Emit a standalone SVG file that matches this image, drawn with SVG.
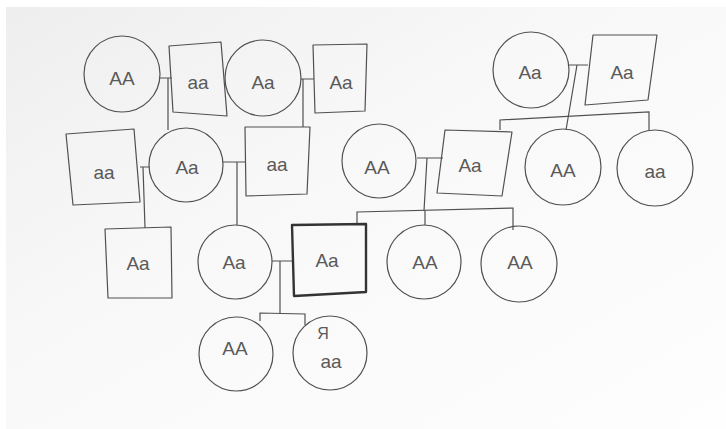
<svg xmlns="http://www.w3.org/2000/svg" width="726" height="429" viewBox="0 0 726 429">
<defs>
<linearGradient id="paper" x1="0" y1="0" x2="1" y2="1">
<stop offset="0" stop-color="#eeeeee"/>
<stop offset="0.4" stop-color="#f8f8f8"/>
<stop offset="1" stop-color="#fefefe"/>
</linearGradient>
<style>
.n{fill:none;stroke:#505050;stroke-width:1.2;stroke-linejoin:round}
.b{fill:none;stroke:#333;stroke-width:2.4;stroke-linejoin:round}
.c{fill:none;stroke:#505050;stroke-width:1.2}
text{font-family:"Liberation Sans","DejaVu Sans",sans-serif;font-size:19px;fill:#5a5a5a;text-anchor:middle}
</style>
</defs>
<rect x="0" y="0" width="726" height="429" fill="#ffffff"/>
<rect x="6" y="7" width="720" height="422" fill="url(#paper)"/>

<g id="connectors">
<path class="c" d="M160,78 H172 M168,78 V130"/>
<path class="c" d="M301,79 H314 M303,79 V127"/>
<path class="c" d="M140,167 H150 M143,167 L145,228"/>
<path class="c" d="M223,162 H245 M237,162 V225"/>
<path class="c" d="M417,158 H443 M427,158 L424,211"/>
<path class="c" d="M357,225 V212 L513,208 V230 M425,211 V225"/>
<path class="c" d="M569,65 H588 M577,65 L566,130"/>
<path class="c" d="M500,130 V120 L649,112 V130"/>
<path class="c" d="M272,261 H293 M280,261 V314"/>
<path class="c" d="M260,321 V313 L305,314 V325"/>
</g>

<g id="n1"><circle class="n" cx="122" cy="74" r="38"/><text x="122" y="85">AA</text></g>
<g id="n2"><polygon class="n" points="169,46 221,42 227,116 173,112"/><text x="198" y="89">aa</text></g>
<g id="n3"><circle class="n" cx="263" cy="78" r="38"/><text x="263" y="89">Aa</text></g>
<g id="n4"><polygon class="n" points="313,45 367,44 365,111 315,113"/><text x="341" y="89">Aa</text></g>

<g id="n5"><polygon class="n" points="66,134 134,129 140,202 73,205"/><text x="104" y="179">aa</text></g>
<g id="n6"><circle class="n" cx="186" cy="165" r="37"/><text x="187" y="174">Aa</text></g>
<g id="n7"><polygon class="n" points="245,127 310,127 307,194 246,196"/><text x="277" y="171">aa</text></g>

<g id="n8"><circle class="n" cx="379" cy="161" r="37"/><text x="377" y="174">AA</text></g>
<g id="n9"><polygon class="n" points="445,130 512,132 502,196 437,193"/><text x="470" y="172">Aa</text></g>
<g id="n10"><circle class="n" cx="531" cy="70" r="38"/><text x="530" y="79">Aa</text></g>
<g id="n11"><polygon class="n" points="593,35 657,35 648,100 585,105"/><text x="622" y="79">Aa</text></g>
<g id="n12"><circle class="n" cx="563" cy="167" r="38"/><text x="563" y="177">AA</text></g>
<g id="n13"><circle class="n" cx="655" cy="168" r="38"/><text x="655" y="178">aa</text></g>

<g id="n14"><polygon class="n" points="105,229 171,227 172,298 108,298"/><text x="138" y="270">Aa</text></g>
<g id="n15"><circle class="n" cx="235" cy="262" r="37"/><text x="234" y="269">Aa</text></g>
<g id="n16"><polygon class="b" points="292,225 366,224 366,292 294,296"/><text x="327" y="267">Aa</text></g>
<g id="n17"><circle class="n" cx="424" cy="262" r="37"/><text x="425" y="269">AA</text></g>
<g id="n18"><circle class="n" cx="519" cy="264" r="38"/><text x="520" y="269">AA</text></g>

<g id="n19"><circle class="n" cx="236" cy="354" r="37"/><text x="235" y="355">AA</text></g>
<g id="n20"><circle class="n" cx="330" cy="353" r="37"/><text x="323" y="339" style="font-size:16px">Я</text><text x="331" y="368">aa</text></g>
</svg>
